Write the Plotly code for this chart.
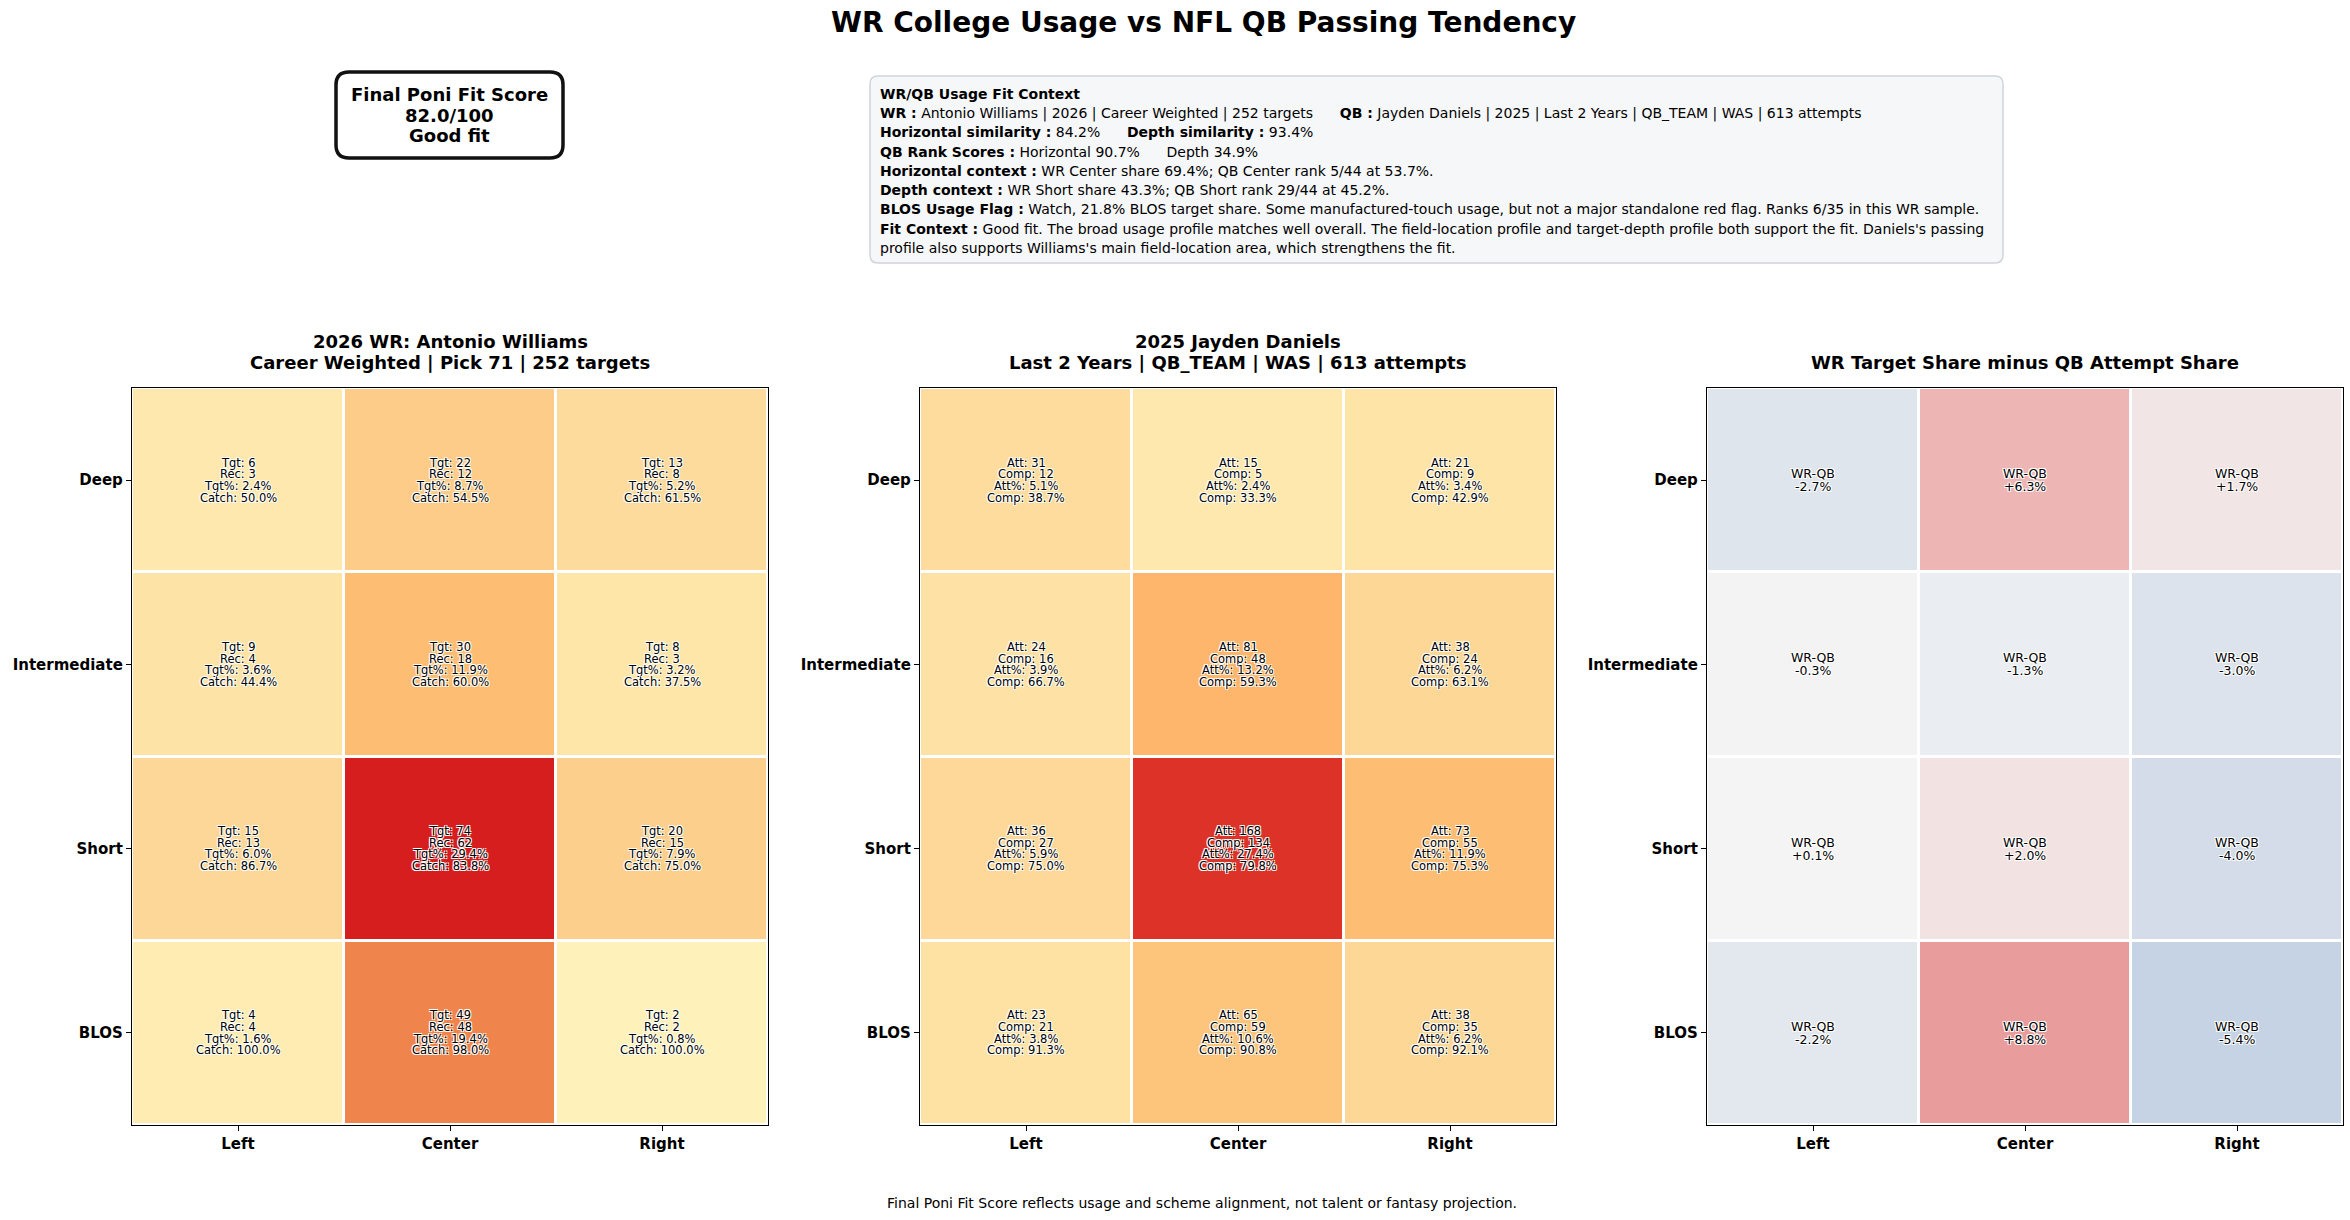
import plotly.graph_objects as go

# zones
field_zones = ['Left', 'Center', 'Right']
depth_zones = ['Deep', 'Intermediate', 'Short', 'BLOS']

# WR college usage (rows = depth, cols = field)
wr_targets = [[6, 22, 13], [9, 30, 8], [15, 74, 20], [4, 49, 2]]
wr_receptions = [[3, 12, 8], [4, 18, 3], [13, 62, 15], [4, 48, 2]]
wr_tgt_pct = [[2.4, 8.7, 5.2], [3.6, 11.9, 3.2], [6.0, 29.4, 7.9], [1.6, 19.4, 0.8]]
wr_catch_pct = [[50.0, 54.5, 61.5], [44.4, 60.0, 37.5], [86.7, 83.8, 75.0], [100.0, 98.0, 100.0]]

# QB passing tendency
qb_att = [[31, 15, 21], [24, 81, 38], [36, 168, 73], [23, 65, 38]]
qb_comp = [[12, 5, 9], [16, 48, 24], [27, 134, 55], [21, 59, 35]]
qb_att_pct = [[5.1, 2.4, 3.4], [3.9, 13.2, 6.2], [5.9, 27.4, 11.9], [3.8, 10.6, 6.2]]
qb_comp_pct = [[38.7, 33.3, 42.9], [66.7, 59.3, 63.1], [75.0, 79.8, 75.3], [91.3, 90.8, 92.1]]

# WR target share minus QB attempt share
share_diff = [[-2.7, 6.3, 1.7], [-0.3, -1.3, -3.0], [0.1, 2.0, -4.0], [-2.2, 8.8, -5.4]]

# header texts
main_title = 'WR College Usage vs NFL QB Passing Tendency'
score_lines = ['Final Poni Fit Score', '82.0/100', 'Good fit']
wr_title = ['2026 WR: Antonio Williams', 'Career Weighted | Pick 71 | 252 targets']
qb_title = ['2025 Jayden Daniels', 'Last 2 Years | QB_TEAM | WAS | 613 attempts']
diff_title = ['WR Target Share minus QB Attempt Share']
footer = 'Final Poni Fit Score reflects usage and scheme alignment, not talent or fantasy projection.'
sp = '\u00a0'
context_lines = [
    '<b>WR/QB Usage Fit Context</b>',
    '<b>WR :</b> Antonio Williams | 2026 | Career Weighted | 252 targets' + sp * 6
    + '<b>QB :</b> Jayden Daniels | 2025 | Last 2 Years | QB_TEAM | WAS | 613 attempts',
    '<b>Horizontal similarity :</b> 84.2%' + sp * 6 + '<b>Depth similarity :</b> 93.4%',
    '<b>QB Rank Scores :</b> Horizontal 90.7%' + sp * 6 + 'Depth 34.9%',
    '<b>Horizontal context :</b> WR Center share 69.4%; QB Center rank 5/44 at 53.7%.',
    '<b>Depth context :</b> WR Short share 43.3%; QB Short rank 29/44 at 45.2%.',
    '<b>BLOS Usage Flag :</b> Watch, 21.8% BLOS target share. Some manufactured-touch usage, '
    'but not a major standalone red flag. Ranks 6/35 in this WR sample.',
    '<b>Fit Context :</b> Good fit. The broad usage profile matches well overall. The field-location '
    "profile and target-depth profile both support the fit. Daniels's passing",
    "profile also supports Williams's main field-location area, which strengthens the fit.",
]

FONT = 'DejaVu Sans'
W, H = 2350, 1220

heat_scale = [
    [0.0, '#fef6c2'], [0.05, '#feedb3'], [0.12, '#fee3a6'], [0.2, '#fdd898'],
    [0.3, '#fdcb87'], [0.4, '#fdbf75'], [0.45, '#feb66c'], [0.55, '#f9a05c'],
    [0.66, '#ef844c'], [0.8, '#e55a38'], [0.93, '#dc3328'], [1.0, '#d71e1f'],
]
diff_scale = [
    [0.0, '#a8bedb'], [0.193, '#c6d3e4'], [0.273, '#d3dce8'], [0.347, '#dfe5ed'],
    [0.5, '#f5f5f5'], [0.614, '#f2e2e2'], [0.858, '#edb6b5'], [1.0, '#e89c9b'],
]

share_max = max(max(r) for r in wr_tgt_pct + qb_att_pct)
diff_max = max(abs(v) for r in share_diff for v in r)

doms = [(132 / W, 768 / W), (920 / W, 1556 / W), (1707 / W, 2343 / W)]
y_dom = ((H - 1125) / H, (H - 388) / H)

fig = go.Figure()

panels = [
    (wr_tgt_pct, heat_scale, 0, share_max),
    (qb_att_pct, heat_scale, 0, share_max),
    (share_diff, diff_scale, -diff_max, diff_max),
]
for i, (z, cs, lo, hi) in enumerate(panels):
    sfx = '' if i == 0 else str(i + 1)
    fig.add_trace(go.Heatmap(
        z=z, x=field_zones, y=depth_zones, colorscale=cs, zmin=lo, zmax=hi,
        showscale=False, xgap=3, ygap=3, hoverinfo='skip',
        xaxis='x' + sfx, yaxis='y' + sfx,
    ))

shadow = '-1px -1px 0 #fff, 1px -1px 0 #fff, -1px 1px 0 #fff, 1px 1px 0 #fff'
annotations = []


def cell_lines(lines, x, y, sfx, size, step):
    # stack lines around the cell centre with fixed pixel spacing
    n = len(lines)
    for k, line in enumerate(lines):
        annotations.append(dict(
            x=x, y=y, xref='x' + sfx, yref='y' + sfx, text=line, showarrow=False,
            yshift=((n - 1) / 2 - k) * step,
            font=dict(family=FONT, size=size, color='black', shadow=shadow),
        ))


def paper_lines(lines, x, y_px, step, font, xanchor='center'):
    for k, line in enumerate(lines):
        annotations.append(dict(
            x=x, y=(H - (y_px + k * step)) / H, xref='paper', yref='paper', text=line,
            showarrow=False, font=font, xanchor=xanchor, yanchor='middle',
        ))


for r, depth in enumerate(depth_zones):
    for c, field in enumerate(field_zones):
        cell_lines([f'Tgt: {wr_targets[r][c]}', f'Rec: {wr_receptions[r][c]}',
                    f'Tgt%: {wr_tgt_pct[r][c]:.1f}%', f'Catch: {wr_catch_pct[r][c]:.1f}%'],
                   field, depth, '', 11.5, 11.7)
        cell_lines([f'Att: {qb_att[r][c]}', f'Comp: {qb_comp[r][c]}',
                    f'Att%: {qb_att_pct[r][c]:.1f}%', f'Comp: {qb_comp_pct[r][c]:.1f}%'],
                   field, depth, '2', 11.5, 11.7)
        cell_lines(['WR-QB', f'{share_diff[r][c]:+.1f}%'], field, depth, '3', 12.5, 13)

# panel titles
title_font = dict(family=FONT, size=18, color='black', weight='bold')
for (d0, d1), lines in zip(doms, [wr_title, qb_title, diff_title]):
    y0 = 342 if len(lines) == 2 else 363
    paper_lines(lines, (d0 + d1) / 2, y0, 21, title_font)

# main title / footer
paper_lines([main_title], 1203 / W, 23, 0, dict(family=FONT, size=28, color='black', weight='bold'))
paper_lines([footer], 1202 / W, 1203, 0, dict(family=FONT, size=14, color='black'))

# score box and context box text
paper_lines(score_lines, 449 / W, 94, 21, dict(family=FONT, size=18, color='black', weight='bold'))
paper_lines(context_lines, 878 / W, 94, 19.25, dict(family=FONT, size=14, color='black'), xanchor='left')


def rounded_box(x0, x1, y0, y1, rad):
    rx, ry = rad / W, rad / H
    return (f'M {x0 + rx},{y0} L {x1 - rx},{y0} Q {x1},{y0} {x1},{y0 + ry} '
            f'L {x1},{y1 - ry} Q {x1},{y1} {x1 - rx},{y1} '
            f'L {x0 + rx},{y1} Q {x0},{y1} {x0},{y1 - ry} '
            f'L {x0},{y0 + ry} Q {x0},{y0} {x0 + rx},{y0} Z')


shapes = [
    dict(type='path', xref='paper', yref='paper',
         path=rounded_box(336 / W, 563 / W, (H - 158) / H, (H - 72) / H, 13),
         line=dict(color='#111111', width=3.5), fillcolor='white'),
    dict(type='path', xref='paper', yref='paper',
         path=rounded_box(870 / W, 2003 / W, (H - 263) / H, (H - 76) / H, 8),
         line=dict(color='#cfd5dc', width=1.5), fillcolor='#f6f7f9', layer='below'),
]

layout = dict(
    width=W, height=H, margin=dict(l=0, r=0, t=0, b=0),
    paper_bgcolor='white', plot_bgcolor='white',
    font=dict(family=FONT, color='black'),
    annotations=annotations, shapes=shapes, showlegend=False,
)
for i, dom in enumerate(doms):
    sfx = '' if i == 0 else str(i + 1)
    layout['xaxis' + sfx] = dict(
        domain=list(dom), anchor='y' + sfx, range=[-0.5, 2.5], type='category',
        categoryorder='array', categoryarray=field_zones,
        showline=True, mirror=True, linecolor='black', linewidth=1.3,
        ticks='outside', ticklen=5, tickcolor='black', showgrid=False, zeroline=False,
        tickfont=dict(family=FONT, size=15, color='black', weight='bold'), fixedrange=True,
    )
    layout['yaxis' + sfx] = dict(
        domain=list(y_dom), anchor='x' + sfx, range=[3.5, -0.5], type='category',
        categoryorder='array', categoryarray=depth_zones,
        showline=True, mirror=True, linecolor='black', linewidth=1.3,
        ticks='outside', ticklen=5, tickcolor='black', showgrid=False, zeroline=False,
        tickfont=dict(family=FONT, size=15, color='black', weight='bold'), fixedrange=True,
    )
fig.update_layout(**layout)

fig.write_html('out.html', config={'displayModeBar': False},
               post_script="document.body.style.margin='0';")
